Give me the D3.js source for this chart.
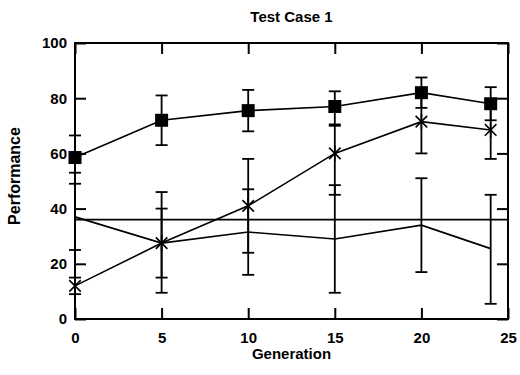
<!DOCTYPE html>
<html>
<head>
<meta charset="utf-8">
<script src="https://cdn.jsdelivr.net/npm/d3@7"></script>
<style>
  body { margin: 0; background: #fff; }
  text { font-family: "Liberation Sans", Arial, sans-serif; fill: #000; }
</style>
</head>
<body>
<div id="chart"></div>
<script>
// values
const generations = [0, 5, 10, 15, 20, 24];

const squareMean = [58.5, 72, 75.5, 77, 82, 78];
const squareLo = [53, 63, 68, 70, 76.5, 72];
const squareHi = [66.5, 81, 83, 82.5, 87.5, 84];

const starMean = [12, 27.5, 41, 60, 71.5, 68.5];
const starLo = [9, 9.5, 24, 45, 60, 58];
const starHi = [15, 46, 58, 70.5, 82, 79];

const plainMean = [37, 27.5, 31.5, 29, 34, 25.5];
const plainLo = [25, 15, 16, 9.5, 17, 5.5];
const plainHi = [49, 40, 47, 48.5, 51, 45];

const baseline = 36;

const xTicks = [0, 5, 10, 15, 20, 25];
const yTicks = [0, 20, 40, 60, 80, 100];

const W = 520, H = 375;
const margin = { top: 43, right: 12, bottom: 56, left: 75 };
const width = W - margin.left - margin.right;
const height = H - margin.top - margin.bottom;

const svg = d3.select("#chart").append("svg")
  .attr("width", W)
  .attr("height", H);

const g = svg.append("g")
  .attr("transform", `translate(${margin.left},${margin.top})`);

const x = d3.scaleLinear().domain([0, 25]).range([0, width]);
const y = d3.scaleLinear().domain([0, 100]).range([height, 0]);

// frame ticks, pointing inward on all four sides
const tickLen = 11;
const axisStyle = (sel) => {
  sel.select(".domain").remove();
  sel.selectAll("line").attr("stroke", "#000").attr("stroke-width", 2);
  sel.selectAll("text")
    .style("font-size", "15px")
    .style("font-weight", "bold");
};

g.append("g")
  .attr("transform", `translate(0,${height})`)
  .call(d3.axisBottom(x).tickValues(xTicks).tickSize(-tickLen).tickPadding(13))
  .call(axisStyle);

g.append("g")
  .call(d3.axisTop(x).tickValues(xTicks).tickSize(-tickLen).tickFormat(""))
  .call(axisStyle);

g.append("g")
  .call(d3.axisLeft(y).tickValues(yTicks).tickSize(-tickLen).tickPadding(8))
  .call(axisStyle);

g.append("g")
  .attr("transform", `translate(${width},0)`)
  .call(d3.axisRight(y).tickValues(yTicks).tickSize(-tickLen).tickFormat(""))
  .call(axisStyle);

g.append("rect")
  .attr("width", width)
  .attr("height", height)
  .attr("fill", "none")
  .attr("stroke", "#000")
  .attr("stroke-width", 2);

// horizontal reference line
g.append("line")
  .attr("x1", 0).attr("x2", width)
  .attr("y1", y(baseline)).attr("y2", y(baseline))
  .attr("stroke", "#000").attr("stroke-width", 1.6);

const series = [
  { name: "square", mean: squareMean, lo: squareLo, hi: squareHi },
  { name: "star", mean: starMean, lo: starLo, hi: starHi },
  { name: "plain", mean: plainMean, lo: plainLo, hi: plainHi },
];

const line = d3.line()
  .x((d) => x(d.gen))
  .y((d) => y(d.v));

const cap = 6;

series.forEach((s) => {
  const pts = generations.map((gen, i) => ({ gen, v: s.mean[i], lo: s.lo[i], hi: s.hi[i] }));
  const sg = g.append("g").attr("class", s.name);

  // error bars
  const eb = sg.selectAll(".err").data(pts).join("g").attr("class", "err")
    .attr("stroke", "#000").attr("stroke-width", 1.8);
  eb.append("line")
    .attr("x1", (d) => x(d.gen)).attr("x2", (d) => x(d.gen))
    .attr("y1", (d) => y(d.lo)).attr("y2", (d) => y(d.hi));
  eb.append("line")
    .attr("x1", (d) => x(d.gen) - cap).attr("x2", (d) => x(d.gen) + cap)
    .attr("y1", (d) => y(d.lo)).attr("y2", (d) => y(d.lo));
  eb.append("line")
    .attr("x1", (d) => x(d.gen) - cap).attr("x2", (d) => x(d.gen) + cap)
    .attr("y1", (d) => y(d.hi)).attr("y2", (d) => y(d.hi));

  sg.append("path")
    .datum(pts)
    .attr("d", line)
    .attr("fill", "none")
    .attr("stroke", "#000")
    .attr("stroke-width", 1.6);

  if (s.name == "square") {
    sg.selectAll(".mk").data(pts).join("rect").attr("class", "mk")
      .attr("x", (d) => x(d.gen) - 6.5)
      .attr("y", (d) => y(d.v) - 6.5)
      .attr("width", 13).attr("height", 13)
      .attr("fill", "#000");
  } else if (s.name == "star") {
    const r = 8;
    const k = r * 0.72;
    const mk = sg.selectAll(".mk").data(pts).join("g").attr("class", "mk")
      .attr("transform", (d) => `translate(${x(d.gen)},${y(d.v)})`)
      .attr("stroke", "#000").attr("stroke-width", 1.6);
    [[0, -r, 0, r], [-k, -k, k, k], [-k, k, k, -k]]
      .forEach((c) => {
        mk.append("line").attr("x1", c[0]).attr("y1", c[1]).attr("x2", c[2]).attr("y2", c[3]);
      });
  }
});

// titles
svg.append("text")
  .attr("x", margin.left + width / 2)
  .attr("y", 22)
  .attr("text-anchor", "middle")
  .style("font-size", "15px")
  .style("font-weight", "bold")
  .text("Test Case 1");

svg.append("text")
  .attr("x", margin.left + width / 2)
  .attr("y", 359)
  .attr("text-anchor", "middle")
  .style("font-size", "15px")
  .style("font-weight", "bold")
  .text("Generation");

svg.append("text")
  .attr("transform", `translate(20,${margin.top + height / 2 - 5}) rotate(-90)`)
  .attr("text-anchor", "middle")
  .style("font-size", "16px")
  .style("font-weight", "bold")
  .text("Performance");
</script>
</body>
</html>
